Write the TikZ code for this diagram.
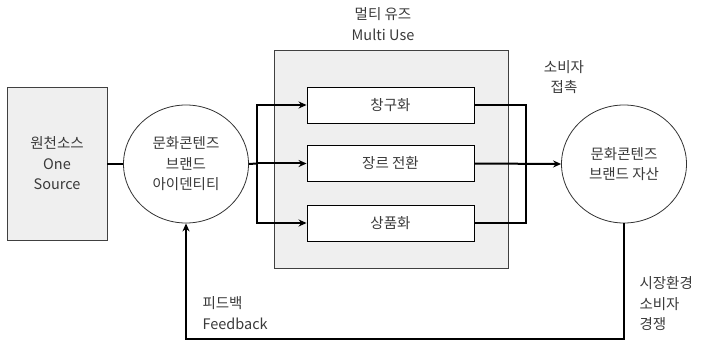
\documentclass[tikz,border=0pt]{standalone}
\usepackage{fontspec}
\setmainfont{Noto Sans CJK KR}
\usetikzlibrary{arrows.meta,shapes.geometric}
\definecolor{boxgray}{HTML}{EFEFEF}
\definecolor{txt}{HTML}{3A3A3A}
\begin{document}
\begin{tikzpicture}[x=1pt,y=-1pt,
  every node/.style={text=txt,font=\fontsize{14.5}{20.5}\selectfont,align=center},
  graybox/.style={draw=black!75,line width=0.8pt,fill=boxgray},
  whitebox/.style={draw=black,line width=0.9pt,fill=white,minimum width=167pt,minimum height=36pt,inner sep=0pt},
  ell/.style={ellipse,draw=black!80,line width=0.8pt,fill=white,minimum width=125pt,minimum height=118pt,inner sep=0pt},
  conn/.style={line width=2pt,black},
  arr/.style={conn,-{Stealth[length=8pt,width=7pt]}}]
\useasboundingbox (0,0) rectangle (707,342);
% big multi-use box
\node[graybox,minimum width=234pt,minimum height=218pt,inner sep=0pt] (mu) at (391,159) {};
% source box
\node[graybox,minimum width=100pt,minimum height=153pt,inner sep=0pt] (src) at (57,163.5) {원천소스\\One\\Source};
% ellipses
\node[ell] (id) at (186,164) {문화콘텐즈\\브랜드\\아이덴티티};
\node[ell] (asset) at (624,164) {문화콘텐즈\\브랜드 자산};
% inner boxes
\node[whitebox] (b1) at (390.5,105) {창구화};
\node[whitebox] (b2) at (390.5,163.5) {장르 전환};
\node[whitebox] (b3) at (390.5,223) {상품화};
% labels
\node (mulabel) at (383,24) {멀티 유즈\\Multi Use};
\node (contact) at (564,77) {소비자\\접촉};
\node[align=left,anchor=west] (fb) at (199,313) {피드백\\Feedback};
\node[align=left,anchor=west] (mk) at (636,304) {시장환경\\소비자\\경쟁};
% coordinates
\coordinate (lsplit) at (257,163.5);
\coordinate (rsplit) at (526,163.5);
\coordinate (fbR) at (624,339);
\coordinate (fbL) at (186,339);
% connectors
\draw[conn] (src.east |- id.west) -- (id.west);
\draw[conn] (id.east) -- (lsplit);
\draw[arr] (lsplit |- b1.west) -- (b1.west);
\draw[arr] (lsplit) -- (b2.west);
\draw[arr] (lsplit |- b3.west) -- (b3.west);
\draw[conn,line cap=rect] (lsplit |- b1.west) -- (lsplit |- b3.west);
\draw[conn,line join=miter] (b1.east) -- (rsplit |- b1.east) -- (rsplit |- b3.east) -- (b3.east);
\draw[arr] (b2.east) -- (asset.west);
\draw[arr,line join=miter] (asset.south) -- (fbR) -- (fbL) -- (id.south);
\end{tikzpicture}
\end{document}
